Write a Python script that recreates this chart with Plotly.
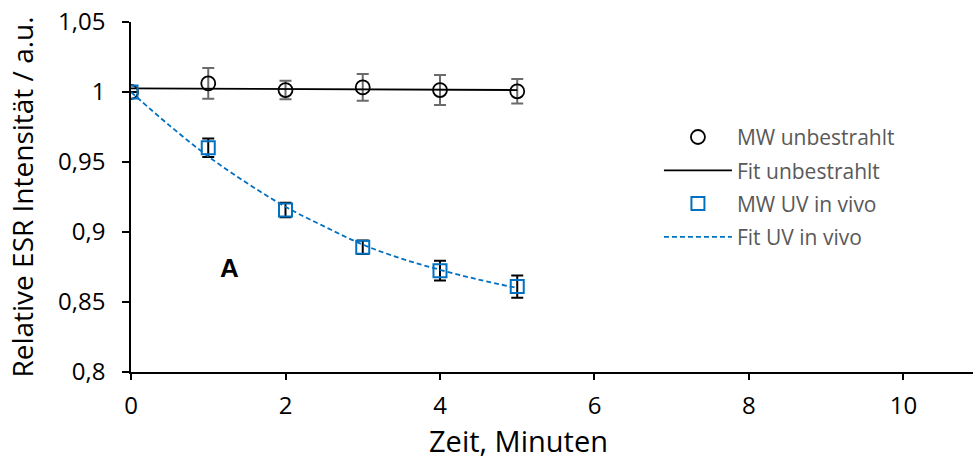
import plotly.graph_objects as go

# Measurement times (minutes)
zeit = [0, 1, 2, 3, 4, 5]

# Mean values, unirradiated samples
mw_unbestrahlt = [1.0, 1.0062, 1.0014, 1.0033, 1.0014, 1.0005]
err_unbestrahlt = [0.0, 0.011, 0.0066, 0.0096, 0.0107, 0.0088]

# Linear fit, unirradiated
fit_unbestrahlt_x = [0, 5]
fit_unbestrahlt_y = [1.0026, 1.0014]

# Mean values, UV in vivo
mw_uv = [1.0, 0.9602, 0.9157, 0.8891, 0.8724, 0.8610]
err_uv = [0.0, 0.0066, 0.0052, 0.0048, 0.0071, 0.0080]

# Exponential fit, UV in vivo
fit_uv_x = [0, 0.5, 1, 1.5, 2, 2.5, 3, 3.5, 4, 4.5, 5]
fit_uv_y = [1.0, 0.976, 0.954, 0.935, 0.918, 0.904, 0.891, 0.881, 0.873, 0.866, 0.860]

y_ticks = [0.8, 0.85, 0.9, 0.95, 1.0, 1.05]
y_tick_labels = ["0,8", "0,85", "0,9", "0,95", "1", "1,05"]
x_ticks = [0, 2, 4, 6, 8, 10]

FONT = "Open Sans"
BLUE = "#0070C0"

fig = go.Figure()

fig.add_trace(go.Scatter(
    x=zeit, y=mw_unbestrahlt, mode="markers", name="MW unbestrahlt",
    legendgroup="a",
    marker=dict(symbol="circle-open", size=14, color="black", line=dict(width=1.8)),
    error_y=dict(type="data", array=err_unbestrahlt, visible=True,
                 color="#6b6b6b", thickness=2, width=6),
))
fig.add_trace(go.Scatter(
    x=fit_unbestrahlt_x, y=fit_unbestrahlt_y, mode="lines", name="Fit unbestrahlt",
    legendgroup="b",
    line=dict(color="black", width=1.8),
))
fig.add_trace(go.Scatter(
    x=zeit, y=mw_uv, mode="markers", name="MW UV in vivo",
    legendgroup="c",
    marker=dict(symbol="square-open", size=13, color=BLUE, line=dict(width=2)),
    error_y=dict(type="data", array=err_uv, visible=True,
                 color="black", thickness=2, width=6),
))
fig.add_trace(go.Scatter(
    x=fit_uv_x, y=fit_uv_y, mode="lines", name="Fit UV in vivo",
    legendgroup="d",
    line=dict(color=BLUE, width=1.8, dash="5px,3px", shape="spline"),
))

fig.add_annotation(x=1.28, y=0.874, text="<b>A</b>", showarrow=False,
                   font=dict(family="Liberation Sans", size=26, color="black"))

# x-axis title
fig.add_annotation(x=0.4608, y=-0.195, xref="paper", yref="paper",
                   text="Zeit, Minuten", showarrow=False, yanchor="middle",
                   font=dict(family=FONT, size=29, color="black"))

fig.update_layout(
    width=973, height=459,
    margin=dict(l=131, r=0, t=22, b=87),
    paper_bgcolor="white", plot_bgcolor="white",
    font=dict(family=FONT, color="black"),
    showlegend=True,
    legend=dict(x=0.627, y=0.729, xanchor="left", yanchor="top",
                font=dict(size=21, color="#595959", family=FONT),
                tracegroupgap=3, bgcolor="rgba(0,0,0,0)", itemwidth=68),
    xaxis=dict(range=[0, 10.9], tickvals=x_ticks, showgrid=False, zeroline=False,
               showline=True, linecolor="black", linewidth=1.5,
               ticks="outside", ticklen=6, tickcolor="black", tickwidth=1.5,
               ticklabelstandoff=5,
               tickfont=dict(size=24, family=FONT)),
    yaxis=dict(range=[0.8, 1.05], tickvals=y_ticks, ticktext=y_tick_labels,
               showgrid=False, zeroline=False,
               showline=True, linecolor="black", linewidth=1.5,
               ticks="outside", ticklen=7, tickcolor="black", tickwidth=1.5,
               ticklabelstandoff=12,
               tickfont=dict(size=24, family=FONT),
               title=dict(text="Relative ESR Intensität / a.u.", font=dict(size=28, family=FONT), standoff=16)),
)

fig.write_html("out.html")
